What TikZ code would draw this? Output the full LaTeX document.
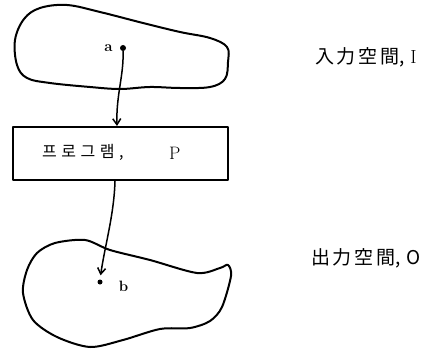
\documentclass[tikz,border=0pt]{standalone}
\usepackage{fontspec}
\newfontfamily\krfont{Noto Sans CJK KR}
\newfontfamily\krsp[LetterSpace=14]{Noto Sans CJK KR}
\newfontfamily\krbox[LetterSpace=28]{Noto Sans CJK KR}
\usetikzlibrary{arrows.meta}
\tikzset{
  outline/.style={line width=2pt, line join=round},
  conn/.style={line width=1.5pt, -{Straight Barb[length=6pt,width=8pt,line width=1.5pt]}},
  dotpt/.style={circle, fill=black, inner sep=0pt, minimum size=6pt},
  lbl/.style={inner sep=1pt, font=\fontsize{15}{17}\selectfont\bfseries},
  spacelbl/.style={anchor=west, inner sep=0pt, font=\fontsize{19}{21}\selectfont},
  progbox/.style={draw, outline, minimum width=215pt, minimum height=53pt, inner sep=0pt}
}
\begin{document}
\begin{tikzpicture}[x=1pt,y=-1pt]
\useasboundingbox (0,0) rectangle (438,350);
% input space outline
\draw[outline] plot[smooth cycle, tension=0.6] coordinates {
 (40,8) (67,5) (100,12) (143,23) (180,32) (210,38) (227,47) (228,62) (225,79)
 (210,87) (180,88) (150,87) (120,89) (90,87) (50,83) (27,78) (17,65) (15,40) (24,19)};
% output space outline
\draw[outline] plot[smooth cycle, tension=0.5] coordinates {
 (85,240) (110,250) (150,260) (197,273) (220,268) (228,265) (231,276) (222,307)
 (210,321) (190,328) (160,329) (123,340) (90,347) (57,337) (33,320) (23,293)
 (27,270) (37,253) (55,243)};
% points
\node[dotpt] (a) at (123,48) {};
\node[lbl, anchor=east] (alab) at ([xshift=-6pt]a.west) {a};
\node[dotpt, minimum size=5pt] (b) at (100,282) {};
\node[lbl, anchor=west] (blab) at ([xshift=15pt,yshift=-4pt]b.east) {b};
% program box
\node[progbox] (prog) at (120.5,153.5) {};
\node[anchor=west, inner sep=0pt, font=\fontsize{16}{18}\selectfont] (progtxt) at (42,152) {\krbox 프로그램,};
\node[anchor=west, inner sep=0pt, font=\fontsize{18}{20}\selectfont] (ptxt) at (169,153) {P};
% labels
\node[spacelbl] (inlab) at (315,57) {{\krsp 入力空間}{\krfont ,}\hspace{6pt}\rmfamily I};
\node[spacelbl] (outlab) at (311,258) {{\krsp 出力空間}{\krfont ,}\hspace{6pt}{\krfont O}};
% connectors
\draw[conn] (a.south) .. controls (124,75) and (116,95) .. ([xshift=-3.5pt]prog.north);
\draw[conn, shorten >=4pt] ([xshift=-5.5pt]prog.south) .. controls (114,215) and (105,245) .. (b.north);
\end{tikzpicture}
\end{document}
